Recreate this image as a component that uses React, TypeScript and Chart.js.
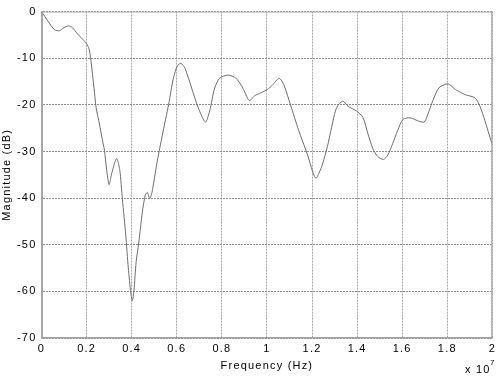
import React, { useEffect, useRef } from "react";
import { Chart, registerables } from "chart.js";

Chart.register(...registerables);

// Frequency in units of 1e7 Hz
const freq: number[] = [
  0, 0.028, 0.058, 0.08, 0.094, 0.12, 0.138, 0.16, 0.182, 0.2, 0.211, 0.218, 0.233, 0.242,
  0.257, 0.27, 0.279, 0.289, 0.3, 0.312, 0.333, 0.347, 0.359, 0.374, 0.385, 0.396, 0.403,
  0.41, 0.42, 0.432, 0.447, 0.461, 0.47, 0.48, 0.49, 0.512, 0.536, 0.564, 0.585, 0.603,
  0.619, 0.637, 0.666, 0.695, 0.727, 0.746, 0.768, 0.79, 0.827, 0.863, 0.893, 0.922, 0.944,
  0.973, 1.002, 1.024, 1.054, 1.075, 1.104, 1.141, 1.178, 1.216, 1.243, 1.268, 1.287, 1.309,
  1.336, 1.36, 1.397, 1.426, 1.448, 1.47, 1.492, 1.517, 1.536, 1.558, 1.58, 1.604, 1.638,
  1.668, 1.697, 1.711, 1.733, 1.762, 1.803, 1.836, 1.879, 1.923, 1.945, 1.967, 1.996, 2.0,
];

// Magnitude in dB
const magnitude: number[] = [
  0, -2.0, -3.9, -4.1, -3.6, -3.05, -3.5, -4.8, -5.9, -6.9, -8.0, -10, -16.4, -20.5,
  -24.1, -27.5, -29.7, -33.9, -37.1, -34.6, -31.5, -33.9, -40.3, -48, -55, -60.3, -62,
  -59.9, -53.6, -49.4, -43.1, -39.2, -38.8, -40.1, -38.8, -32.5, -26.5, -19.9, -14.3, -11.6,
  -11.1, -12.2, -16.4, -20.6, -23.7, -21.3, -16.4, -14.3, -13.6, -14.3, -16.4, -19.1, -18.1,
  -17.4, -16.7, -15.8, -14.3, -15.7, -19.9, -25.5, -30.4, -35.7, -33.2, -29.0, -24.8, -20.6,
  -19.2, -20.3, -21.3, -22.7, -26.2, -29.4, -31.1, -31.7, -30.8, -28.3, -25.5, -23.1, -22.8,
  -23.4, -23.7, -22.4, -19.5, -16.4, -15.5, -16.7, -17.8, -18.5, -20.3, -23.4, -28.0, -28.5,
];

const xTickStep = 0.2;
const yTickStep = 10;
const xLabel = "Frequency (Hz)";
const yLabel = "Magnitude (dB)";
const exponentBase = "x 10";
const exponent = "7";

const FONT = "'Liberation Sans', Arial, sans-serif";

export default function App() {
  const ref = useRef<HTMLCanvasElement | null>(null);

  useEffect(() => {
    if (!ref.current) return;
    const points = freq.map((f, i) => ({ x: f, y: magnitude[i] }));

    const spacingPlugin = {
      id: "spacing",
      beforeLayout(chart: any) {
        (chart.ctx as any).letterSpacing = "1.2px";
      },
      beforeDraw(chart: any) {
        (chart.ctx as any).letterSpacing = "1.2px";
      },
    };

    const framePlugin = {
      id: "frame",
      afterDraw(chart: any) {
        const { ctx, chartArea } = chart;
        const { left, right, top, bottom } = chartArea;
        ctx.save();
        ctx.setLineDash([]);
        ctx.lineWidth = 1;
        ctx.strokeStyle = "#b4b4b4";
        ctx.beginPath();
        ctx.moveTo(left, top + 0.5);
        ctx.lineTo(right, top + 0.5);
        ctx.stroke();
        ctx.strokeStyle = "#9a9a9a";
        ctx.beginPath();
        ctx.moveTo(right - 0.5, top);
        ctx.lineTo(right - 0.5, bottom);
        ctx.stroke();
        (ctx as any).letterSpacing = "1.2px";
        ctx.fillStyle = "#000";
        ctx.textBaseline = "middle";
        ctx.textAlign = "left";
        ctx.font = `11px ${FONT}`;
        ctx.fillText(exponentBase, 465, 370);
        const w = ctx.measureText(exponentBase).width;
        ctx.font = `8px ${FONT}`;
        ctx.fillText(exponent, 465 + w - 0.5, 363);
        ctx.restore();
      },
    };

    const chart = new Chart(ref.current, {
      type: "line",
      data: {
        datasets: [
          {
            data: points,
            borderColor: "#6e6e6e",
            borderWidth: 1,
            pointRadius: 0,
            tension: 0.25,
            fill: false,
          },
        ],
      },
      options: {
        animation: false,
        responsive: false,
        maintainAspectRatio: false,
        layout: { padding: { top: 5.5, right: 2.7, left: 0, bottom: 0 } },
        plugins: {
          legend: { display: false },
          tooltip: { enabled: false },
        },
        scales: {
          x: {
            type: "linear",
            min: 0,
            max: 2,
            afterFit(scale: any) {
              scale.height = 38;
            },
            ticks: {
              stepSize: xTickStep,
              padding: 4,
              color: "#000",
              font: { family: FONT, size: 11 },
              maxRotation: 0,
              autoSkip: false,
              callback: (v: any) => String(Number(Number(v).toFixed(1))),
            },
            grid: {
              color: "#a6a6a6",
              lineWidth: 1,
              drawTicks: false,
            },
            border: { display: true, color: "#a0a0a0", width: 1.5, dash: [2, 1] },
            title: {
              display: true,
              text: xLabel,
              color: "#000",
              font: { family: FONT, size: 11 },
              padding: { top: 0, bottom: 3 },
            },
          } as any,
          y: {
            type: "linear",
            min: -70,
            max: 0,
            afterFit(scale: any) {
              scale.width = 41.5;
            },
            ticks: {
              stepSize: yTickStep,
              padding: 5,
              color: "#000",
              font: { family: FONT, size: 11 },
              callback: (v: any) => String(v),
            },
            grid: {
              color: "#8c8c8c",
              lineWidth: 1,
              drawTicks: false,
            },
            border: { display: true, color: "#a8a8a8", width: 2, dash: [2, 1] },
            title: {
              display: true,
              text: yLabel,
              color: "#000",
              font: { family: FONT, size: 11 },
              padding: { top: 0, bottom: 0 },
            },
          } as any,
        },
      },
      plugins: [spacingPlugin, framePlugin],
    });

    return () => chart.destroy();
  }, []);

  return (
    <div style={{ position: "absolute", left: 0, top: 0, width: 500, height: 376, background: "#fff" }}>
      <canvas ref={ref} width={500} height={376} style={{ width: 500, height: 376, display: "block" }} />
    </div>
  );
}
